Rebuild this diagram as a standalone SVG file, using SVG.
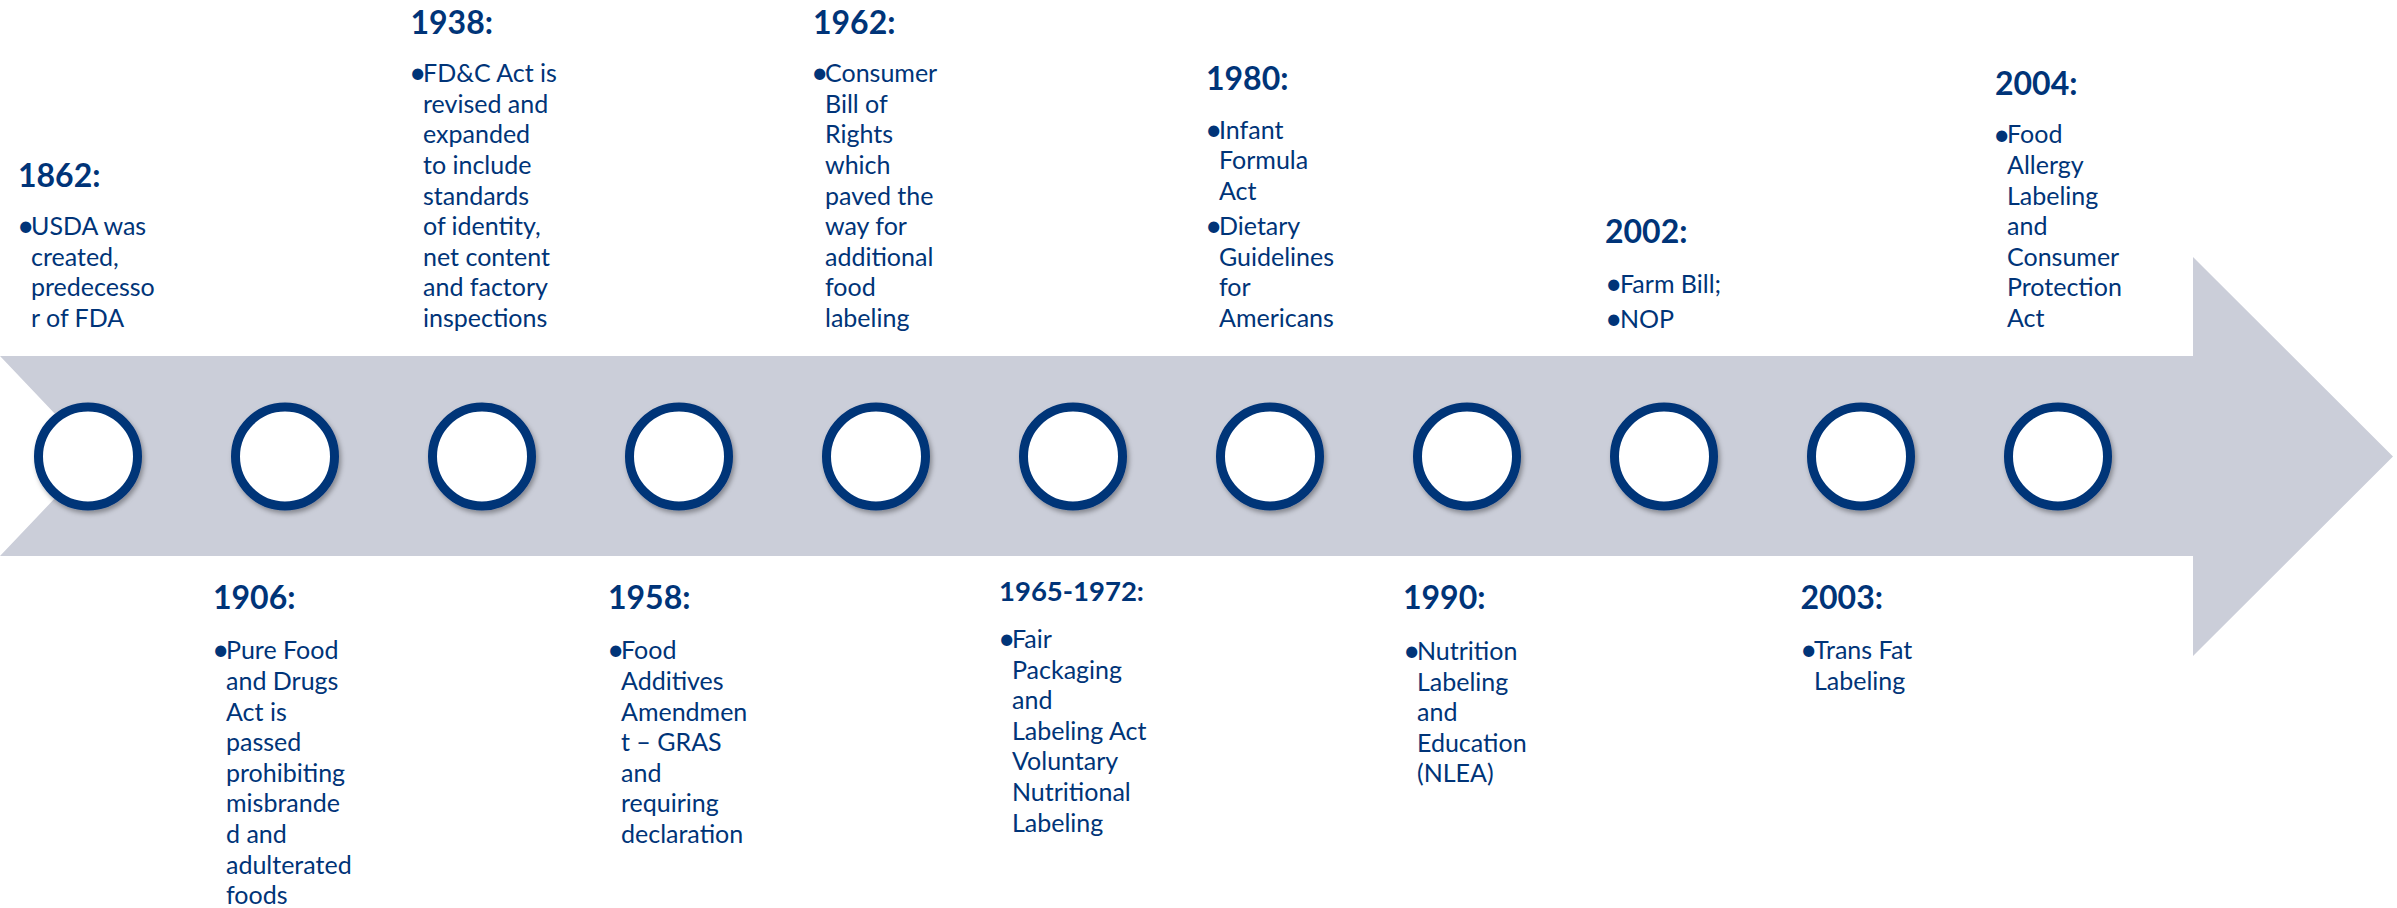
<svg xmlns="http://www.w3.org/2000/svg" width="2397" height="908" viewBox="0 0 2397 908">
  <style>
    .yr { font-family: Lato, "Liberation Sans", sans-serif; font-weight: 700; font-size: 32px; fill: #003478; }
    .yr-sm { font-size: 27.5px; }
    .bd { font-family: Lato, "Liberation Sans", sans-serif; font-size: 25px; fill: #003478; }
    .bl { font-size: 30px; }
    .ring { fill: #ffffff; stroke: #003478; stroke-width: 9; filter: url(#ringShadow); }
    .band { fill: #cbced9; }
  </style>
  <defs>
    <filter id="ringShadow" x="-30%" y="-30%" width="160%" height="160%">
      <feDropShadow dx="2" dy="3" stdDeviation="2.5" flood-color="#000000" flood-opacity="0.35"/>
    </filter>
  </defs>

  <rect width="2397" height="908" fill="#ffffff"/>

  <!-- notched timeline arrow running left to right -->
  <g id="connectors">
    <path class="band" d="M0,356 L2193,356 L2193,257 L2393,456.5 L2193,656 L2193,556 L0,556 L95,456 Z"/>
  </g>

  <!-- 1862 -->
  <g id="event-1862">
    <circle class="ring" cx="88" cy="456.5" r="49.5"/>
    <text class="yr" x="18" y="187">1862:</text>
    <text class="bd">
      <tspan class="bl" x="17" y="236.3">•</tspan>
      <tspan x="31" y="235.2">USDA was</tspan>
      <tspan x="31" y="265.8">created,</tspan>
      <tspan x="31" y="296.4">predecesso</tspan>
      <tspan x="31" y="327">r of FDA</tspan>
    </text>
  </g>

  <!-- 1906 -->
  <g id="event-1906">
    <circle class="ring" cx="285" cy="456.5" r="49.5"/>
    <text class="yr" x="213" y="609">1906:</text>
    <text class="bd">
      <tspan class="bl" x="212" y="660.4">•</tspan>
      <tspan x="226" y="659.3">Pure Food</tspan>
      <tspan x="226" y="689.9">and Drugs</tspan>
      <tspan x="226" y="720.5">Act is</tspan>
      <tspan x="226" y="751.1">passed</tspan>
      <tspan x="226" y="781.7">prohibiting</tspan>
      <tspan x="226" y="812.3">misbrande</tspan>
      <tspan x="226" y="842.9">d and</tspan>
      <tspan x="226" y="873.5">adulterated</tspan>
      <tspan x="226" y="904.1">foods</tspan>
    </text>
  </g>

  <!-- 1938 -->
  <g id="event-1938">
    <circle class="ring" cx="482" cy="456.5" r="49.5"/>
    <text class="yr" x="410.5" y="33.7">1938:</text>
    <text class="bd">
      <tspan class="bl" x="409" y="83.3">•</tspan>
      <tspan x="423" y="82.2">FD&amp;C Act is</tspan>
      <tspan x="423" y="112.8">revised and</tspan>
      <tspan x="423" y="143.4">expanded</tspan>
      <tspan x="423" y="174">to include</tspan>
      <tspan x="423" y="204.6">standards</tspan>
      <tspan x="423" y="235.2">of identity,</tspan>
      <tspan x="423" y="265.8">net content</tspan>
      <tspan x="423" y="296.4">and factory</tspan>
      <tspan x="423" y="327">inspections</tspan>
    </text>
  </g>

  <!-- 1958 -->
  <g id="event-1958">
    <circle class="ring" cx="679" cy="456.5" r="49.5"/>
    <text class="yr" x="608" y="609">1958:</text>
    <text class="bd">
      <tspan class="bl" x="607" y="660.4">•</tspan>
      <tspan x="621" y="659.3">Food</tspan>
      <tspan x="621" y="689.9">Additives</tspan>
      <tspan x="621" y="720.5">Amendmen</tspan>
      <tspan x="621" y="751.1">t – GRAS</tspan>
      <tspan x="621" y="781.7">and</tspan>
      <tspan x="621" y="812.3">requiring</tspan>
      <tspan x="621" y="842.9">declaration</tspan>
    </text>
  </g>

  <!-- 1962 -->
  <g id="event-1962">
    <circle class="ring" cx="876" cy="456.5" r="49.5"/>
    <text class="yr" x="813" y="33.7">1962:</text>
    <text class="bd">
      <tspan class="bl" x="811" y="83.3">•</tspan>
      <tspan x="825" y="82.2">Consumer</tspan>
      <tspan x="825" y="112.8">Bill of</tspan>
      <tspan x="825" y="143.4">Rights</tspan>
      <tspan x="825" y="174">which</tspan>
      <tspan x="825" y="204.6">paved the</tspan>
      <tspan x="825" y="235.2">way for</tspan>
      <tspan x="825" y="265.8">additional</tspan>
      <tspan x="825" y="296.4">food</tspan>
      <tspan x="825" y="327">labeling</tspan>
    </text>
  </g>

  <!-- 1965-1972 -->
  <g id="event-1965-1972">
    <circle class="ring" cx="1073" cy="456.5" r="49.5"/>
    <text class="yr yr-sm" x="999" y="601">1965-1972:</text>
    <text class="bd">
      <tspan class="bl" x="998" y="649.1">•</tspan>
      <tspan x="1012" y="648">Fair</tspan>
      <tspan x="1012" y="678.6">Packaging</tspan>
      <tspan x="1012" y="709.2">and</tspan>
      <tspan x="1012" y="739.8">Labeling Act</tspan>
      <tspan x="1012" y="770.4">Voluntary</tspan>
      <tspan x="1012" y="801">Nutritional</tspan>
      <tspan x="1012" y="831.6">Labeling</tspan>
    </text>
  </g>

  <!-- 1980 -->
  <g id="event-1980">
    <circle class="ring" cx="1270" cy="456.5" r="49.5"/>
    <text class="yr" x="1206" y="90">1980:</text>
    <text class="bd">
      <tspan class="bl" x="1205" y="139.6">•</tspan>
      <tspan x="1219" y="138.5">Infant</tspan>
      <tspan x="1219" y="169.1">Formula</tspan>
      <tspan x="1219" y="199.7">Act</tspan>
      <tspan class="bl" x="1205" y="236.3">•</tspan>
      <tspan x="1219" y="235.2">Dietary</tspan>
      <tspan x="1219" y="265.8">Guidelines</tspan>
      <tspan x="1219" y="296.4">for</tspan>
      <tspan x="1219" y="327">Americans</tspan>
    </text>
  </g>

  <!-- 1990 -->
  <g id="event-1990">
    <circle class="ring" cx="1467" cy="456.5" r="49.5"/>
    <text class="yr" x="1403" y="609">1990:</text>
    <text class="bd">
      <tspan class="bl" x="1403" y="661.1">•</tspan>
      <tspan x="1417" y="660">Nutrition</tspan>
      <tspan x="1417" y="690.6">Labeling</tspan>
      <tspan x="1417" y="721.2">and</tspan>
      <tspan x="1417" y="751.8">Education</tspan>
      <tspan x="1417" y="782.4">(NLEA)</tspan>
    </text>
  </g>

  <!-- 2002 -->
  <g id="event-2002">
    <circle class="ring" cx="1664" cy="456.5" r="49.5"/>
    <text class="yr" x="1605" y="243">2002:</text>
    <text class="bd">
      <tspan class="bl" x="1605" y="293.6">•</tspan>
      <tspan x="1620" y="292.5">Farm Bill;</tspan>
      <tspan class="bl" x="1605" y="328.6">•</tspan>
      <tspan x="1620" y="327.5">NOP</tspan>
    </text>
  </g>

  <!-- 2003 -->
  <g id="event-2003">
    <circle class="ring" cx="1861" cy="456.5" r="49.5"/>
    <text class="yr" x="1800.5" y="609">2003:</text>
    <text class="bd">
      <tspan class="bl" x="1800" y="660.4">•</tspan>
      <tspan x="1814" y="659.3">Trans Fat</tspan>
      <tspan x="1814" y="689.9">Labeling</tspan>
    </text>
  </g>

  <!-- 2004 -->
  <g id="event-2004">
    <circle class="ring" cx="2058" cy="456.5" r="49.5"/>
    <text class="yr" x="1995" y="95">2004:</text>
    <text class="bd">
      <tspan class="bl" x="1993" y="144.5">•</tspan>
      <tspan x="2007" y="143.4">Food</tspan>
      <tspan x="2007" y="174">Allergy</tspan>
      <tspan x="2007" y="204.6">Labeling</tspan>
      <tspan x="2007" y="235.2">and</tspan>
      <tspan x="2007" y="265.8">Consumer</tspan>
      <tspan x="2007" y="296.4">Protection</tspan>
      <tspan x="2007" y="327">Act</tspan>
    </text>
  </g>
</svg>
